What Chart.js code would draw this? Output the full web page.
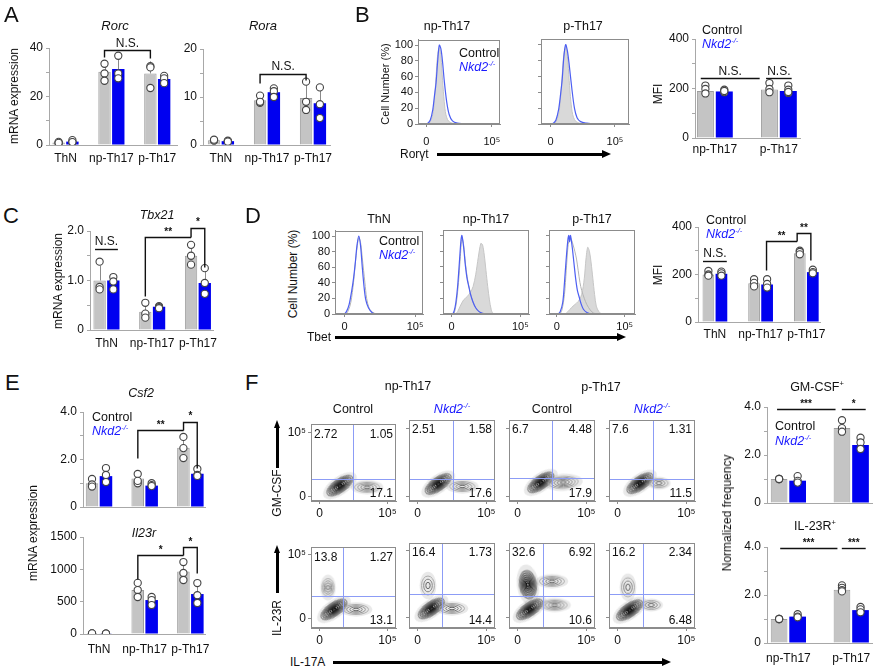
<!DOCTYPE html>
<html>
<head>
<meta charset="utf-8">
<script src="https://cdn.jsdelivr.net/npm/chart.js@4.4.0/dist/chart.umd.min.js"></script>
<style>
  body { margin: 0; width: 876px; height: 669px; position: relative; overflow: hidden; background: #fff;
         font-family: 'Liberation Sans', Arial, sans-serif; }
  canvas { position: absolute; }
  .t { position: absolute; white-space: nowrap; color: #111; font-size: 12px; line-height: 1; }
  .t sup { font-size: 0.6em; vertical-align: 0.6em; line-height: 0; }
  .ln { position: absolute; background: #000; }
  .ko { color: #1a1aff; font-style: italic; }
</style>
</head>
<body>
<script>
// ── categories ──────────────────────────────────────────────
const cats3 = ['ThN', 'np-Th17', 'p-Th17'];
const cats2 = ['np-Th17', 'p-Th17'];

// ── A: Rorc / Rora mRNA ─────────────────────────────────────
const rorcCtrl = [1.0, 30.2, 29.5];
const rorcKo = [1.4, 31.3, 27.2];
const rorcCtrlPts = [[1.3, 0.7, 0.9], [33.5, 29.5, 26.5], [32.5, 32.0, 23.5]];
const rorcKoPts = [[2.0, 1.1, 1.2], [36.8, 29.5, 27.5], [28.5, 27.5, 25.5]];
const rorcCtrlSd = [0.3, 3.5, 5.0];
const rorcKoSd = [0.5, 5.5, 1.5];

const roraCtrl = [1.0, 9.3, 9.8];
const roraKo = [0.8, 11.0, 8.7];
const roraCtrlPts = [[1.0, 0.9, 1.1], [10.3, 8.8, 9.0], [13.2, 9.0, 7.3]];
const roraKoPts = [[0.8, 0.9, 0.7], [11.8, 11.2, 10.0], [12.0, 8.5, 5.6]];
const roraCtrlSd = [0.1, 0.8, 3.0];
const roraKoSd = [0.1, 0.8, 3.3];

// ── B: Rorgt MFI ────────────────────────────────────────────
const bMfiCtrl = [190, 196];
const bMfiKo = [188, 190];
const bMfiCtrlPts = [[212, 198, 180], [222, 198, 185]];
const bMfiKoPts = [[195, 185, 190], [212, 195, 182, 186]];

// ── C: Tbx21 mRNA ───────────────────────────────────────────
const tbxCtrl = [1.0, 0.37, 1.5];
const tbxKo = [1.0, 0.47, 0.95];
const tbxCtrlPts = [[1.38, 0.87, 0.82], [0.55, 0.33, 0.25], [1.72, 1.5, 1.32]];
const tbxKoPts = [[1.07, 0.98, 0.82], [0.48, 0.46, 0.44], [1.25, 0.95, 0.73]];
const tbxCtrlSd = [0.3, 0.15, 0.2];
const tbxKoSd = [0.1, 0.03, 0.28];

// ── D: Tbet MFI ─────────────────────────────────────────────
const dMfiCtrl = [200, 163, 290];
const dMfiKo = [203, 158, 210];
const dMfiCtrlPts = [[215, 200, 195], [180, 165, 150], [300, 295, 285]];
const dMfiKoPts = [[212, 205, 195], [180, 160, 145], [220, 210, 205]];

// ── E: Csf2 / Il23r mRNA ────────────────────────────────────
const csfCtrl = [1.0, 1.2, 2.5];
const csfKo = [1.3, 0.9, 1.4];
const csfCtrlPts = [[1.18, 0.95, 0.86], [1.39, 1.0, 1.1], [2.95, 2.48, 2.06]];
const csfKoPts = [[1.64, 1.35, 1.05], [1.0, 0.92, 0.88], [1.6, 1.35, 1.31]];
const csfCtrlSd = [0.1, 0.2, 0.4];
const csfKoSd = [0.3, 0.05, 0.15];

const il23Ctrl = [8, 680, 965];
const il23Ko = [6, 525, 618];
const il23CtrlPts = [[8, 6, 10], [790, 680, 572], [1113, 943, 835]];
const il23KoPts = [[6, 5, 7], [572, 525, 448], [788, 600, 479]];
const il23CtrlSd = [0, 90, 140];
const il23KoSd = [0, 60, 160];

// ── F: normalized frequency ─────────────────────────────────
const gmCtrl = [1.0, 3.12];
const gmKo = [0.93, 2.42];
const gmCtrlPts = [[1.0, 1.0, 1.0], [3.45, 3.12, 2.97]];
const gmKoPts = [[1.12, 0.92, 0.85], [2.72, 2.52, 2.25]];

const irCtrl = [1.0, 2.22];
const irKo = [1.1, 1.37];
const irCtrlPts = [[1.0, 1.0, 1.0], [2.4, 2.3, 2.2, 2.15]];
const irKoPts = [[1.2, 1.1, 1.07], [1.5, 1.4, 1.28]];

// ── significance brackets [x, y] in data units ──────────────
const rorcSig = [{ pts: [[0.85, 36.2], [0.85, 39], [1.85, 39], [1.85, 35.8]], text: 'N.S.', at: [1.35, 39] }];
const roraSig = [{ pts: [[0.85, 12.9], [0.85, 14.8], [1.85, 14.8], [1.85, 13.6]], text: 'N.S.', at: [1.35, 14.8] }];
const bMfiSig = [
  { pts: [[-0.22, 241], [0.7, 241]], text: 'N.S.', at: [0.24, 241] },
  { pts: [[0.8, 241], [1.2, 241]], text: 'N.S.', at: [1.0, 241] }
];
const tbxSig = [
  { pts: [[-0.25, 1.64], [0.25, 1.64]], text: 'N.S.', at: [0, 1.64] },
  { pts: [[0.85, 0.69], [0.85, 1.88], [1.85, 1.88]], text: '**', at: [1.35, 1.88] },
  { pts: [[1.85, 1.88], [1.85, 2.07], [2.15, 2.07], [2.15, 1.28]], text: '*', at: [2.0, 2.07] }
];
const dMfiSig = [
  { pts: [[-0.26, 257], [0.26, 257]], text: 'N.S.', at: [0, 257] },
  { pts: [[1.13, 219], [1.13, 341], [1.8, 341]], text: '**', at: [1.46, 341] },
  { pts: [[1.8, 341], [1.8, 375], [2.1, 375], [2.1, 261]], text: '**', at: [1.95, 375] }
];
const csfSig = [
  { pts: [[0.85, 2.06], [0.85, 3.24], [1.85, 3.24]], text: '**', at: [1.35, 3.24] },
  { pts: [[1.85, 3.24], [1.85, 3.6], [2.15, 3.6], [2.15, 1.64]], text: '*', at: [2.0, 3.6] }
];
const il23Sig = [
  { pts: [[0.85, 850], [0.85, 1220], [1.85, 1220]], text: '*', at: [1.35, 1220] },
  { pts: [[1.85, 1220], [1.85, 1345], [2.15, 1345], [2.15, 943]], text: '*', at: [2.0, 1345] }
];
const gmSig = [
  { pts: [[-0.18, 3.92], [0.75, 3.92]], text: '***', at: [0.28, 3.92] },
  { pts: [[0.85, 3.92], [1.23, 3.92]], text: '*', at: [1.04, 3.92] }
];
const irSig = [
  { pts: [[-0.13, 3.96], [0.78, 3.96]], text: '***', at: [0.32, 3.96] },
  { pts: [[0.85, 3.96], [1.23, 3.96]], text: '***', at: [1.04, 3.96] }
];

// ── histograms [x, %] (x: 0-100 display units) ──────────────
const bNpCtrl = [[0,0],[12,0],[15,3],[18,12],[20,30],[22,60],[24,88],[26,97],[28,85],[30,55],[32,28],[34,12],[37,4],[42,1],[50,0],[100,0]];
const bNpKo = [[0,0],[8,0],[12,1],[15,5],[18,18],[20,35],[22,52],[24,80],[26,100],[28,95],[30,78],[32,55],[35,28],[38,12],[42,4],[48,1],[60,0],[100,0]];
const bPCtrl = [[0,0],[14,0],[17,3],[20,12],[22,30],[24,60],[26,88],[28,97],[30,85],[32,55],[34,28],[36,12],[39,4],[44,1],[52,0],[100,0]];
const bPKo = [[0,0],[10,0],[14,1],[17,5],[20,18],[22,35],[24,55],[26,85],[28,100],[30,92],[32,75],[35,45],[38,20],[41,8],[45,3],[52,1],[60,0],[100,0]];

const dThnCtrl = [[0,0],[12,0],[15,4],[18,15],[21,40],[24,75],[27,98],[29,92],[31,72],[34,40],[36,20],[39,7],[43,2],[48,0],[100,0]];
const dThnKo = [[0,0],[10,0],[13,3],[16,12],[19,30],[21,45],[23,65],[25,88],[27,100],[29,88],[31,60],[33,35],[35,18],[38,8],[42,2],[46,0],[100,0]];
const dNpRef = [[0,0],[14,0],[17,3],[20,10],[24,18],[28,22],[32,28],[35,35],[38,50],[41,72],[44,90],[46,88],[48,75],[50,55],[52,35],[54,18],[56,6],[58,1],[62,0],[100,0]];
const dNpCtrl = [[0,0],[12,0],[14,5],[16,18],[18,40],[20,70],[22,97],[24,88],[26,65],[28,48],[30,36],[33,22],[36,12],[40,5],[45,1],[52,0],[100,0]];
const dNpKo = [[0,0],[11,0],[13,4],[15,15],[17,35],[19,65],[21,95],[22,100],[24,85],[26,62],[28,45],[30,35],[32,25],[35,15],[38,8],[42,3],[46,1],[52,0],[100,0]];
const dPRef = [[0,0],[18,0],[22,3],[26,8],[30,12],[34,16],[38,25],[41,45],[43,70],[45,85],[47,80],[49,65],[51,45],[53,25],[55,10],[58,3],[62,0],[100,0]];
const dPCtrl = [[0,0],[12,0],[15,5],[18,25],[20,55],[22,85],[24,98],[26,95],[28,88],[30,80],[32,70],[34,55],[36,40],[38,30],[41,20],[44,12],[48,5],[52,1],[58,0],[100,0]];
const dPKo = [[0,0],[10,0],[13,3],[16,15],[18,40],[20,70],[22,95],[23,100],[24,92],[25,100],[27,85],[29,65],[31,45],[33,30],[35,22],[37,14],[40,6],[44,2],[50,0],[100,0]];
const histTicks = [0, 20, 40, 60, 80, 100];

// ── flow plots: cluster centres [x, y, kind], gates, quadrant % ──
const gmNpCtrl = [[34, 20, 'core'], [66, 18, 'tail']];
const gmNpKo = [[34, 21, 'core'], [62, 18, 'tail']];
const gmPCtrl = [[37, 23, 'core'], [63, 23, 'tailBig']];
const gmPKo = [[36, 22, 'core'], [58, 22, 'tailSm']];
const irNpCtrl = [[27, 23, 'core'], [20, 50, 'up'], [53, 23, 'tail']];
const irNpKo = [[26, 23, 'core'], [22, 50, 'upLight'], [50, 23, 'tail']];
const irPCtrl = [[24, 22, 'core'], [22, 51, 'upDark'], [50, 55, 'tail'], [53, 27, 'tail']];
const irPKo = [[24, 21, 'core'], [22, 48, 'upLight'], [49, 27, 'tailSm']];
const gmGates = [[49, 28], [51, 27], [50, 28], [51, 27]];
const irGates = [[38, 40], [38, 40], [40, 38], [40, 40]];
const gmNums = [['2.72', '1.05', '17.1'], ['2.51', '1.58', '17.6'], ['6.7', '4.48', '17.9'], ['7.6', '1.31', '11.5']];
const irNums = [['13.8', '1.27', '13.1'], ['16.4', '1.73', '14.4'], ['32.6', '6.92', '10.6'], ['16.2', '2.34', '6.48']];

// ── style tokens ────────────────────────────────────────────
const FONT = "'Liberation Sans', Arial, sans-serif";
const INK = '#111';
const AXIS = '#a8a8a8';
const GRAY = '#c4c4c4';
const GRAY_EDGE = '#9c9c9c';
const BLUE = '#0000f0';
const HIST_BLUE = '#4d5ff2';
const GATE = '#8c9cf6';

Chart.defaults.font.family = FONT;
Chart.defaults.color = INK;

// ── plugins ─────────────────────────────────────────────────
const errBars = {
  id: 'errbars',
  beforeDatasetsDraw(chart, args, opts) {
    if (!opts.sd) return;
    const { ctx } = chart;
    const y = chart.scales.y;
    ctx.save();
    ctx.strokeStyle = '#8a8a8a';
    ctx.lineWidth = 1;
    opts.sd.forEach((sds, k) => {
      if (!sds) return;
      const ds = chart.data.datasets[k + 2];
      chart.getDatasetMeta(k + 2).data.forEach((bar, i) => {
        if (!sds[i]) return;
        const top = y.getPixelForValue(ds.data[i].y + sds[i]);
        const px = Math.round(bar.x) + 0.5;
        ctx.beginPath();
        ctx.moveTo(px, bar.y);
        ctx.lineTo(px, top);
        ctx.stroke();
      });
    });
    ctx.restore();
  }
};

const sigMarks = {
  id: 'sig',
  afterDatasetsDraw(chart, args, opts) {
    if (!opts.marks) return;
    const { ctx, scales: { x, y } } = chart;
    ctx.save();
    ctx.strokeStyle = INK;
    ctx.fillStyle = INK;
    ctx.lineWidth = 1.4;
    ctx.textAlign = 'center';
    ctx.textBaseline = 'bottom';
    opts.marks.forEach(m => {
      ctx.beginPath();
      m.pts.forEach(([a, b], j) => {
        const px = x.getPixelForValue(a), py = Math.round(y.getPixelForValue(b)) + 0.5;
        j ? ctx.lineTo(px, py) : ctx.moveTo(px, py);
      });
      ctx.stroke();
      const ns = m.text.indexOf('N') === 0;
      ctx.font = (ns ? '12px ' : 'bold 10px ') + FONT;
      ctx.fillText(m.text, x.getPixelForValue(m.at[0]), y.getPixelForValue(m.at[1]) - (ns ? 1 : 0));
    });
    ctx.restore();
  }
};

const frame = {
  id: 'frame',
  afterDraw(chart, args, opts) {
    if (!opts.on) return;
    const { ctx, chartArea: a } = chart;
    ctx.save();
    ctx.strokeStyle = '#8c8c8c';
    ctx.lineWidth = 1;
    ctx.strokeRect(Math.round(a.left) + 0.5, Math.round(a.top) + 0.5, Math.round(a.width) - 1, Math.round(a.height) - 1);
    ctx.restore();
  }
};

const gates = {
  id: 'gates',
  afterDatasetsDraw(chart, args, opts) {
    if (!opts.at) return;
    const { ctx, chartArea: a, scales: { x, y } } = chart;
    const px = Math.round(x.getPixelForValue(opts.at[0])) + 0.5;
    const py = Math.round(y.getPixelForValue(opts.at[1])) + 0.5;
    ctx.save();
    ctx.strokeStyle = GATE;
    ctx.lineWidth = 1;
    ctx.beginPath();
    ctx.moveTo(px, a.top); ctx.lineTo(px, a.bottom);
    ctx.moveTo(a.left, py); ctx.lineTo(a.right, py);
    ctx.stroke();
    ctx.fillStyle = INK;
    ctx.font = '12px ' + FONT;
    ctx.textBaseline = 'top';
    ctx.textAlign = 'left';
    ctx.fillText(opts.nums[0], a.left + 3, a.top + 4);
    ctx.textAlign = 'right';
    ctx.fillText(opts.nums[1], a.right - 3, a.top + 4);
    ctx.textBaseline = 'bottom';
    ctx.fillText(opts.nums[2], a.right - 3, a.bottom - 1);
    ctx.restore();
  }
};

Chart.register(errBars, sigMarks, frame, gates);

// ── helpers ─────────────────────────────────────────────────
function addCanvas(x, y, w, h) {
  const c = document.createElement('canvas');
  c.width = w; c.height = h;
  c.style.left = x + 'px'; c.style.top = y + 'px';
  c.style.width = w + 'px'; c.style.height = h + 'px';
  document.body.appendChild(c);
  return c;
}

function label(x, y, html, o = {}) {
  const d = document.createElement('div');
  d.className = 't' + (o.cls ? ' ' + o.cls : '');
  d.innerHTML = html;
  d.style.left = x + 'px';
  d.style.top = y + 'px';
  if (o.size) d.style.fontSize = o.size + 'px';
  if (o.italic) d.style.fontStyle = 'italic';
  const ax = o.align === 'left' ? '0' : o.align === 'right' ? '-100%' : '-50%';
  d.style.transform = `translate(${ax}, -50%)` + (o.rot ? ' rotate(-90deg)' : '');
  document.body.appendChild(d);
}

function arrowH(x1, x2, y) {
  const l = document.createElement('div');
  l.className = 'ln';
  Object.assign(l.style, { left: x1 + 'px', top: (y - 1.5) + 'px', width: (x2 - x1 - 7) + 'px', height: '3px' });
  const h = document.createElement('div');
  Object.assign(h.style, { position: 'absolute', left: (x2 - 9) + 'px', top: (y - 4) + 'px', width: 0, height: 0,
    borderTop: '4px solid transparent', borderBottom: '4px solid transparent', borderLeft: '9px solid #000' });
  document.body.append(l, h);
}

function arrowV(x, y1, y2) {
  const l = document.createElement('div');
  l.className = 'ln';
  Object.assign(l.style, { left: (x - 1) + 'px', top: (y2 + 6) + 'px', width: '2.5px', height: (y1 - y2 - 6) + 'px' });
  const h = document.createElement('div');
  Object.assign(h.style, { position: 'absolute', left: (x - 3.5) + 'px', top: y2 + 'px', width: 0, height: 0,
    borderLeft: '3.5px solid transparent', borderRight: '3.5px solid transparent', borderBottom: '8px solid #000' });
  document.body.append(l, h);
}

const KO = '<span class="ko">Nkd2<sup>-/-</sup></span>';

// ── bar chart factory ───────────────────────────────────────
function barChart(o) {
  const padL = 34, padT = 30, padB = 26, padR = 18;
  const cv = addCanvas(o.left - padL, o.top - padT, o.right - o.left + padL + padR, o.bottom - o.top + padT + padB);
  const off = o.pct / 4;
  const dots = (groups, sign) => groups.flatMap((g, i) => g.map(v => ({ x: i + sign * off, y: v })));
  const bars = vals => vals.map((v, i) => ({ x: i, y: v }));
  const dotDs = data => ({ type: 'scatter', data, pointRadius: 3.6, pointBackgroundColor: '#fff',
    pointBorderColor: '#444', pointBorderWidth: 1.1 });
  return new Chart(cv, {
    type: 'bar',
    data: {
      datasets: [
        dotDs(dots(o.ctrlPts, -1)),
        dotDs(dots(o.koPts, 1)),
        { data: bars(o.ctrl), backgroundColor: GRAY, borderColor: GRAY_EDGE, borderWidth: 1,
          categoryPercentage: o.pct, barPercentage: 0.9 },
        { data: bars(o.ko), backgroundColor: BLUE, borderWidth: 0,
          categoryPercentage: o.pct, barPercentage: 0.9 }
      ]
    },
    options: {
      responsive: false, animation: false, devicePixelRatio: 1,
      layout: { padding: { top: padT, right: padR, left: 0, bottom: 0 } },
      plugins: {
        legend: { display: false }, tooltip: { enabled: false },
        errbars: { sd: [o.ctrlSd, o.koSd] }, sig: { marks: o.sig }
      },
      scales: {
        x: {
          type: 'linear', min: o.xmin, max: o.xmax, offset: false,
          grid: { display: false, drawTicks: false }, border: { color: AXIS },
          afterBuildTicks: s => { s.ticks = o.cats.map((c, i) => ({ value: i })); },
          ticks: { display: o.showX !== false, padding: o.xpad, font: { size: 12 }, color: INK,
                   autoSkip: false, maxRotation: 0, callback: v => o.cats[v] },
          afterFit: s => { s.height = padB; }
        },
        y: {
          min: 0, max: o.ymax,
          grid: { drawOnChartArea: false, tickLength: 3, color: AXIS }, border: { color: AXIS },
          ticks: { stepSize: o.minor, padding: 3, font: { size: 12 }, color: INK,
                   callback: v => (Math.abs(v / o.major - Math.round(v / o.major)) < 1e-6 ? o.fmt(v) : '') },
          afterFit: s => { s.width = padL; }
        }
      }
    }
  });
}

const plain = v => String(v);
const dec1 = v => (v === 0 ? '0' : v.toFixed(1));

// ── histogram factory ───────────────────────────────────────
function histChart(o) {
  const padL = 30, padT = 8, padB = 22, padR = 12;
  const cv = addCanvas(o.left - padL, o.top - padT, o.right - o.left + padL + padR, o.bottom - o.top + padT + padB);
  const line = (pts, kind) => ({
    data: pts.map(([x, y]) => ({ x, y })),
    borderColor: kind === 'ko' ? HIST_BLUE : kind === 'fill' ? '#c6c6c6' : '#b4b4b4',
    backgroundColor: '#d9d9d9',
    borderWidth: kind === 'ko' ? 1.2 : 1,
    fill: kind === 'fill' ? 'origin' : false,
    pointRadius: 0, tension: 0.3
  });
  new Chart(cv, {
    type: 'line',
    data: { datasets: o.sets.map(([pts, kind]) => line(pts, kind)) },
    options: {
      responsive: false, animation: false, devicePixelRatio: 1,
      layout: { padding: { top: padT, right: padR, left: 0, bottom: 0 } },
      plugins: { legend: { display: false }, tooltip: { enabled: false }, frame: { on: true } },
      scales: {
        x: {
          type: 'linear', min: 0, max: 100,
          grid: { drawOnChartArea: false, tickLength: 3, color: '#8c8c8c' }, border: { color: '#8c8c8c' },
          afterBuildTicks: s => { s.ticks = o.xt.map(value => ({ value })); },
          ticks: { padding: o.xpad, font: { size: 11 }, color: INK, maxRotation: 0, autoSkip: false,
                   callback: v => (v === o.xt[0] ? '0' : '10⁵') },
          afterFit: s => { s.height = padB; }
        },
        y: {
          min: 0, max: 107,
          grid: { drawOnChartArea: false, tickLength: 3, color: '#8c8c8c' }, border: { color: '#8c8c8c' },
          afterBuildTicks: s => { s.ticks = histTicks.map(value => ({ value })); },
          ticks: { display: !!o.yLabels, padding: 2, font: { size: 11 }, color: INK },
          afterFit: s => { s.width = padL; }
        }
      }
    }
  });
}

// ── contour glyphs for the flow plots ───────────────────────
const GLYPHS = {
  core:    { w: 30, h: 13, rot: -35, rings: 7, dark: true },
  tail:    { w: 25, h: 10, rot: 0, rings: 4 },
  tailBig: { w: 30, h: 12, rot: -4, rings: 5 },
  tailSm:  { w: 18, h: 9, rot: 0, rings: 3 },
  up:      { w: 12, h: 18, rot: 0, rings: 4 },
  upLight: { w: 13, h: 19, rot: 0, rings: 3 },
  upDark:  { w: 17, h: 28, rot: -8, rings: 7, dark: true }
};

function makeGlyph(g) {
  const c = document.createElement('canvas');
  c.width = Math.ceil(g.w * 1.35) + 4;
  c.height = Math.ceil(g.h * 1.5) + 4;
  const x = c.getContext('2d');
  const cx = c.width / 2, cy = c.height / 2;
  x.fillStyle = 'rgba(120,120,120,0.16)';
  x.beginPath(); x.ellipse(cx, cy, g.w * 0.65, g.h * 0.72, 0, 0, Math.PI * 2); x.fill();
  for (let i = 0; i < g.rings; i++) {
    const f = 1 - i / g.rings;
    const t = i / Math.max(1, g.rings - 1);
    const lv = g.dark ? Math.round(140 - t * 130) : Math.round(170 - t * 75);
    x.strokeStyle = `rgb(${lv},${lv},${lv})`;
    x.lineWidth = g.dark ? 1.4 : 1;
    x.beginPath(); x.ellipse(cx, cy, g.w / 2 * f, g.h / 2 * f, 0, 0, Math.PI * 2); x.stroke();
  }
  return c;
}
const glyphImg = {};
Object.keys(GLYPHS).forEach(k => { glyphImg[k] = makeGlyph(GLYPHS[k]); });

// ── flow plot factory ───────────────────────────────────────
function flowChart(o) {
  const padL = 28, padT = 4, padB = 22, padR = 6;
  const cv = addCanvas(o.left - padL, o.top - padT, o.right - o.left + padL + padR, o.bottom - o.top + padT + padB);
  new Chart(cv, {
    type: 'scatter',
    data: {
      datasets: [{
        data: o.clusters.map(([x, y, k]) => ({ x, y, k })),
        pointStyle: c => glyphImg[c.raw.k],
        rotation: c => GLYPHS[c.raw.k].rot,
        pointRadius: 3
      }]
    },
    options: {
      responsive: false, animation: false, devicePixelRatio: 1,
      layout: { padding: { top: padT, right: padR, left: 0, bottom: 0 } },
      plugins: { legend: { display: false }, tooltip: { enabled: false }, frame: { on: true },
                 gates: { at: o.gate, nums: o.nums } },
      scales: {
        x: {
          type: 'linear', min: 0, max: 100,
          grid: { drawOnChartArea: false, tickLength: 3, color: '#8c8c8c' }, border: { color: '#8c8c8c' },
          afterBuildTicks: s => { s.ticks = [{ value: 10 }, { value: 90 }]; },
          ticks: { padding: 2, font: { size: 12 }, color: INK, maxRotation: 0, autoSkip: false,
                   callback: v => (v === 10 ? '0' : '10⁵') },
          afterFit: s => { s.height = padB; }
        },
        y: {
          min: 0, max: 100,
          grid: { drawOnChartArea: false, tickLength: 3, color: '#8c8c8c' }, border: { color: '#8c8c8c' },
          afterBuildTicks: s => { s.ticks = o.yt.map(value => ({ value })); },
          ticks: { display: !!o.yLabels, padding: 2, font: { size: 12 }, color: INK,
                   callback: v => (v === o.yt[0] ? '0' : '10⁵') },
          afterFit: s => { s.width = padL; }
        }
      }
    }
  });
}

// ════════════════ Panel A ════════════════
barChart({ left: 49, right: 177, top: 48, bottom: 145, ymax: 40, major: 20, minor: 10, fmt: plain,
  xmin: -0.36, xmax: 2.43, pct: 0.6, xpad: 6, cats: cats3,
  ctrl: rorcCtrl, ko: rorcKo, ctrlPts: rorcCtrlPts, koPts: rorcKoPts, ctrlSd: rorcCtrlSd, koSd: rorcKoSd, sig: rorcSig });
barChart({ left: 203, right: 330, top: 49, bottom: 145, ymax: 20, major: 10, minor: 5, fmt: plain,
  xmin: -0.39, xmax: 2.37, pct: 0.6, xpad: 6, cats: cats3,
  ctrl: roraCtrl, ko: roraKo, ctrlPts: roraCtrlPts, koPts: roraKoPts, ctrlSd: roraCtrlSd, koSd: roraKoSd, sig: roraSig });

// ════════════════ Panel B ════════════════
histChart({ left: 418, right: 500, top: 39, bottom: 124, xt: [10, 90], xpad: 8, yLabels: true,
  sets: [[bNpKo, 'ko'], [bNpCtrl, 'fill']] });
histChart({ left: 541, right: 629, top: 39, bottom: 124, xt: [11, 84], xpad: 8,
  sets: [[bPKo, 'ko'], [bPCtrl, 'fill']] });
barChart({ left: 695, right: 800, top: 39, bottom: 138, ymax: 400, major: 200, minor: 100, fmt: plain,
  xmin: -0.31, xmax: 1.33, pct: 0.59, xpad: 4, cats: cats2,
  ctrl: bMfiCtrl, ko: bMfiKo, ctrlPts: bMfiCtrlPts, koPts: bMfiKoPts, sig: bMfiSig });

// ════════════════ Panel C ════════════════
barChart({ left: 90, right: 213, top: 231, bottom: 330, ymax: 2, major: 1, minor: 0.5, fmt: dec1,
  xmin: -0.36, xmax: 2.33, pct: 0.6, xpad: 6, cats: cats3,
  ctrl: tbxCtrl, ko: tbxKo, ctrlPts: tbxCtrlPts, koPts: tbxKoPts, ctrlSd: tbxCtrlSd, koSd: tbxKoSd, sig: tbxSig });

// ════════════════ Panel D ════════════════
histChart({ left: 335, right: 423, top: 230, bottom: 314, xt: [11, 91], xpad: 3, yLabels: true,
  sets: [[dThnKo, 'ko'], [dThnCtrl, 'line']] });
histChart({ left: 443, right: 529, top: 230, bottom: 314, xt: [10, 90], xpad: 3,
  sets: [[dNpKo, 'ko'], [dNpCtrl, 'line'], [dNpRef, 'fill']] });
histChart({ left: 549, right: 635, top: 230, bottom: 314, xt: [9, 88], xpad: 3,
  sets: [[dPKo, 'ko'], [dPCtrl, 'line'], [dPRef, 'fill']] });
barChart({ left: 698, right: 820, top: 227, bottom: 322, ymax: 400, major: 200, minor: 100, fmt: plain,
  xmin: -0.37, xmax: 2.3, pct: 0.57, xpad: 5, cats: cats3,
  ctrl: dMfiCtrl, ko: dMfiKo, ctrlPts: dMfiCtrlPts, koPts: dMfiKoPts, sig: dMfiSig });

// ════════════════ Panel E ════════════════
barChart({ left: 83, right: 205, top: 412, bottom: 507, ymax: 4, major: 2, minor: 1, fmt: dec1,
  xmin: -0.35, xmax: 2.32, pct: 0.61, xpad: 8, cats: cats3, showX: false,
  ctrl: csfCtrl, ko: csfKo, ctrlPts: csfCtrlPts, koPts: csfKoPts, ctrlSd: csfCtrlSd, koSd: csfKoSd, sig: csfSig });
barChart({ left: 83, right: 205, top: 537, bottom: 634, ymax: 1500, major: 500, minor: 250, fmt: plain,
  xmin: -0.35, xmax: 2.32, pct: 0.61, xpad: 8, cats: cats3,
  ctrl: il23Ctrl, ko: il23Ko, ctrlPts: il23CtrlPts, koPts: il23KoPts, ctrlSd: il23CtrlSd, koSd: il23KoSd, sig: il23Sig });

// ════════════════ Panel F ════════════════
const flowCols = [[311, 396], [409, 495], [509, 595], [609, 695]];
const gmSets = [gmNpCtrl, gmNpKo, gmPCtrl, gmPKo];
const irSets = [irNpCtrl, irNpKo, irPCtrl, irPKo];
flowCols.forEach(([l, r], i) => {
  flowChart({ left: l, right: r, top: 419, bottom: 501, yt: [6, 89], yLabels: i === 0,
    clusters: gmSets[i], gate: gmGates[i], nums: gmNums[i] });
  flowChart({ left: l, right: r, top: 542, bottom: 628, yt: [12, 91], yLabels: i === 0,
    clusters: irSets[i], gate: irGates[i], nums: irNums[i] });
});
barChart({ left: 767, right: 872, top: 407, bottom: 503, ymax: 4, major: 2, minor: 1, fmt: dec1,
  xmin: -0.34, xmax: 1.33, pct: 0.59, xpad: 8, cats: cats2, showX: false,
  ctrl: gmCtrl, ko: gmKo, ctrlPts: gmCtrlPts, koPts: gmKoPts, sig: gmSig });
barChart({ left: 767, right: 872, top: 547, bottom: 643, ymax: 4, major: 2, minor: 1, fmt: dec1,
  xmin: -0.34, xmax: 1.33, pct: 0.59, xpad: 8, cats: cats2,
  ctrl: irCtrl, ko: irKo, ctrlPts: irCtrlPts, koPts: irKoPts, sig: irSig });

// ════════════════ text ════════════════
[['A', 4, 15], ['B', 355, 15], ['C', 3, 216], ['D', 245, 216], ['E', 5, 383], ['F', 245, 383]]
  .forEach(([t, x, y]) => label(x, y, t, { size: 22, align: 'left' }));

// A
label(115, 25, 'Rorc', { italic: true, size: 13 });
label(263, 25, 'Rora', { italic: true, size: 13 });
label(14, 96, 'mRNA expression', { rot: true });
// B
label(447, 26, 'np-Th17', { size: 12.5 });
label(583, 26, 'p-Th17', { size: 12.5 });
label(385, 84, 'Cell Number (%)', { rot: true, size: 11 });
label(459, 53, 'Control', { align: 'left', size: 12.5 });
label(459, 67, KO, { align: 'left', size: 12.5 });
label(400, 154, 'Ror&gamma;t', { align: 'left', size: 12 });
arrowH(437, 611, 154);
label(658, 94, 'MFI', { rot: true });
label(702, 30, 'Control', { align: 'left', size: 12.5 });
label(702, 44, KO, { align: 'left', size: 12.5 });
// C
label(157, 215, 'Tbx21', { italic: true, size: 12.5 });
label(58, 281, 'mRNA expression', { rot: true });
// D
label(379, 219, 'ThN', { size: 12.5 });
label(486, 219, 'np-Th17', { size: 12.5 });
label(592, 219, 'p-Th17', { size: 12.5 });
label(293, 274, 'Cell Number (%)', { rot: true, size: 12 });
label(379, 241, 'Control', { align: 'left', size: 12.5 });
label(379, 255, KO, { align: 'left', size: 12.5 });
label(307, 337, 'Tbet', { align: 'left', size: 12 });
arrowH(335, 626, 337);
label(658, 275, 'MFI', { rot: true });
label(706, 220, 'Control', { align: 'left', size: 12.5 });
label(706, 234, KO, { align: 'left', size: 12.5 });
// E
label(141, 393, 'Csf2', { italic: true, size: 12.5 });
label(144, 533, 'Il23r', { italic: true, size: 12.5 });
label(33, 533, 'mRNA expression', { rot: true });
label(92, 417, 'Control', { align: 'left', size: 12.5 });
label(92, 431, KO, { align: 'left', size: 12.5 });
// F
label(408, 386, 'np-Th17', { size: 12.5 });
label(601, 387, 'p-Th17', { size: 12.5 });
label(353, 409, 'Control', { size: 12.5 });
label(452, 409, KO, { size: 12.5 });
label(552, 409, 'Control', { size: 12.5 });
label(652, 409, KO, { size: 12.5 });
label(277, 493, 'GM-CSF', { rot: true });
arrowV(277, 468, 420);
label(277, 618, 'IL-23R', { rot: true });
arrowV(277, 593, 545);
label(290, 662, 'IL-17A', { align: 'left', size: 12 });
arrowH(333, 671, 662);
label(817, 387, 'GM-CSF<sup>+</sup>', { size: 12.5 });
label(815, 526, 'IL-23R<sup>+</sup>', { size: 12.5 });
label(727, 513, 'Normalized frequency', { rot: true });
label(775, 426, 'Control', { align: 'left', size: 12.5 });
label(775, 441, KO, { align: 'left', size: 12.5 });
</script>
</body>
</html>
